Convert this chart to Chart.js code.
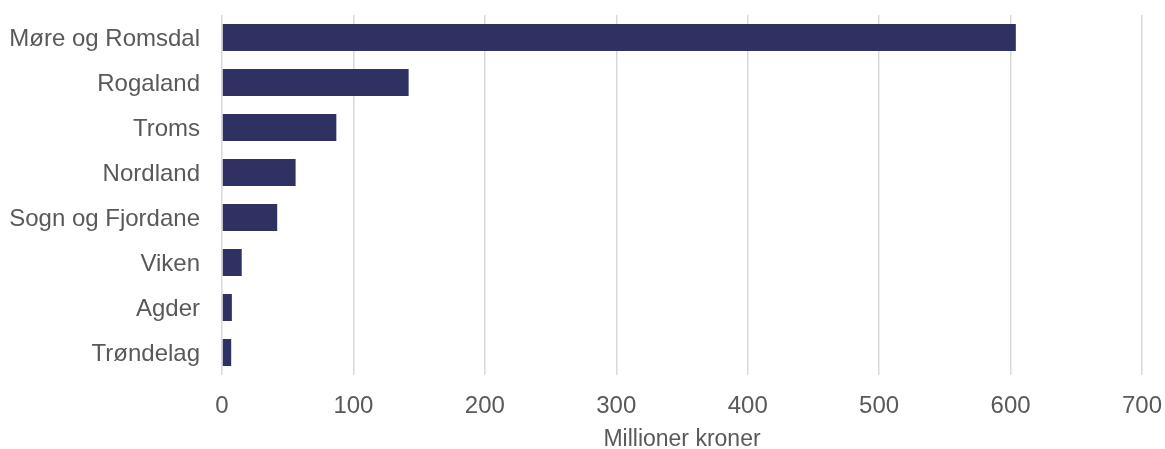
<!DOCTYPE html>
<html>
<head>
<meta charset="utf-8">
<script src="https://cdn.jsdelivr.net/npm/chart.js@4/dist/chart.umd.min.js"></script>
<style>
  html, body { margin: 0; padding: 0; background: #ffffff; }
  #wrap { width: 1165px; height: 449px; position: relative; }
</style>
</head>
<body>
<div id="wrap"><canvas id="c" width="1165" height="449"></canvas></div>
<script>
const categories = ["Møre og Romsdal", "Rogaland", "Troms", "Nordland", "Sogn og Fjordane", "Viken", "Agder", "Trøndelag"];
const values = [604, 142, 87, 56, 42, 15, 7.5, 7];
const xTicks = [0, 100, 200, 300, 400, 500, 600, 700];
const xTitle = "Millioner kroner";

const textColor = "#595959";
const fontFamily = "'Liberation Sans', Arial, sans-serif";

new Chart(document.getElementById("c"), {
  type: "bar",
  data: {
    labels: categories,
    datasets: [{
      data: values,
      backgroundColor: "#2E3162",
      borderWidth: 0,
      categoryPercentage: 1.0,
      barPercentage: 0.6
    }]
  },
  options: {
    indexAxis: "y",
    responsive: false,
    animation: false,
    devicePixelRatio: 1,
    layout: { padding: { left: 0, right: 23, top: 15, bottom: 0 } },
    plugins: { legend: { display: false }, tooltip: { enabled: false } },
    scales: {
      x: {
        min: 0,
        max: 700,
        afterBuildTicks: (scale) => { scale.ticks = xTicks.map(v => ({ value: v })); },
        grid: { color: "#d9d9d9", lineWidth: 1.5, drawTicks: false },
        border: { display: false },
        ticks: { color: textColor, font: { family: fontFamily, size: 24 }, padding: 17, maxRotation: 0 },
        title: { display: true, text: xTitle, color: textColor, font: { family: fontFamily, size: 23, lineHeight: 0.8 }, padding: { top: 0, bottom: 0 } },
        afterFit: (scale) => { scale.height = 74; scale.paddingLeft = 0; scale.paddingRight = 0; }
      },
      y: {
        grid: { display: false, drawTicks: false },
        border: { display: false },
        ticks: { color: textColor, font: { family: fontFamily, size: 24 }, padding: 22, labelOffset: 2 },
        afterFit: (scale) => { scale.width = 222; scale.paddingTop = 0; scale.paddingBottom = 0; }
      }
    }
  }
});
</script>
</body>
</html>
